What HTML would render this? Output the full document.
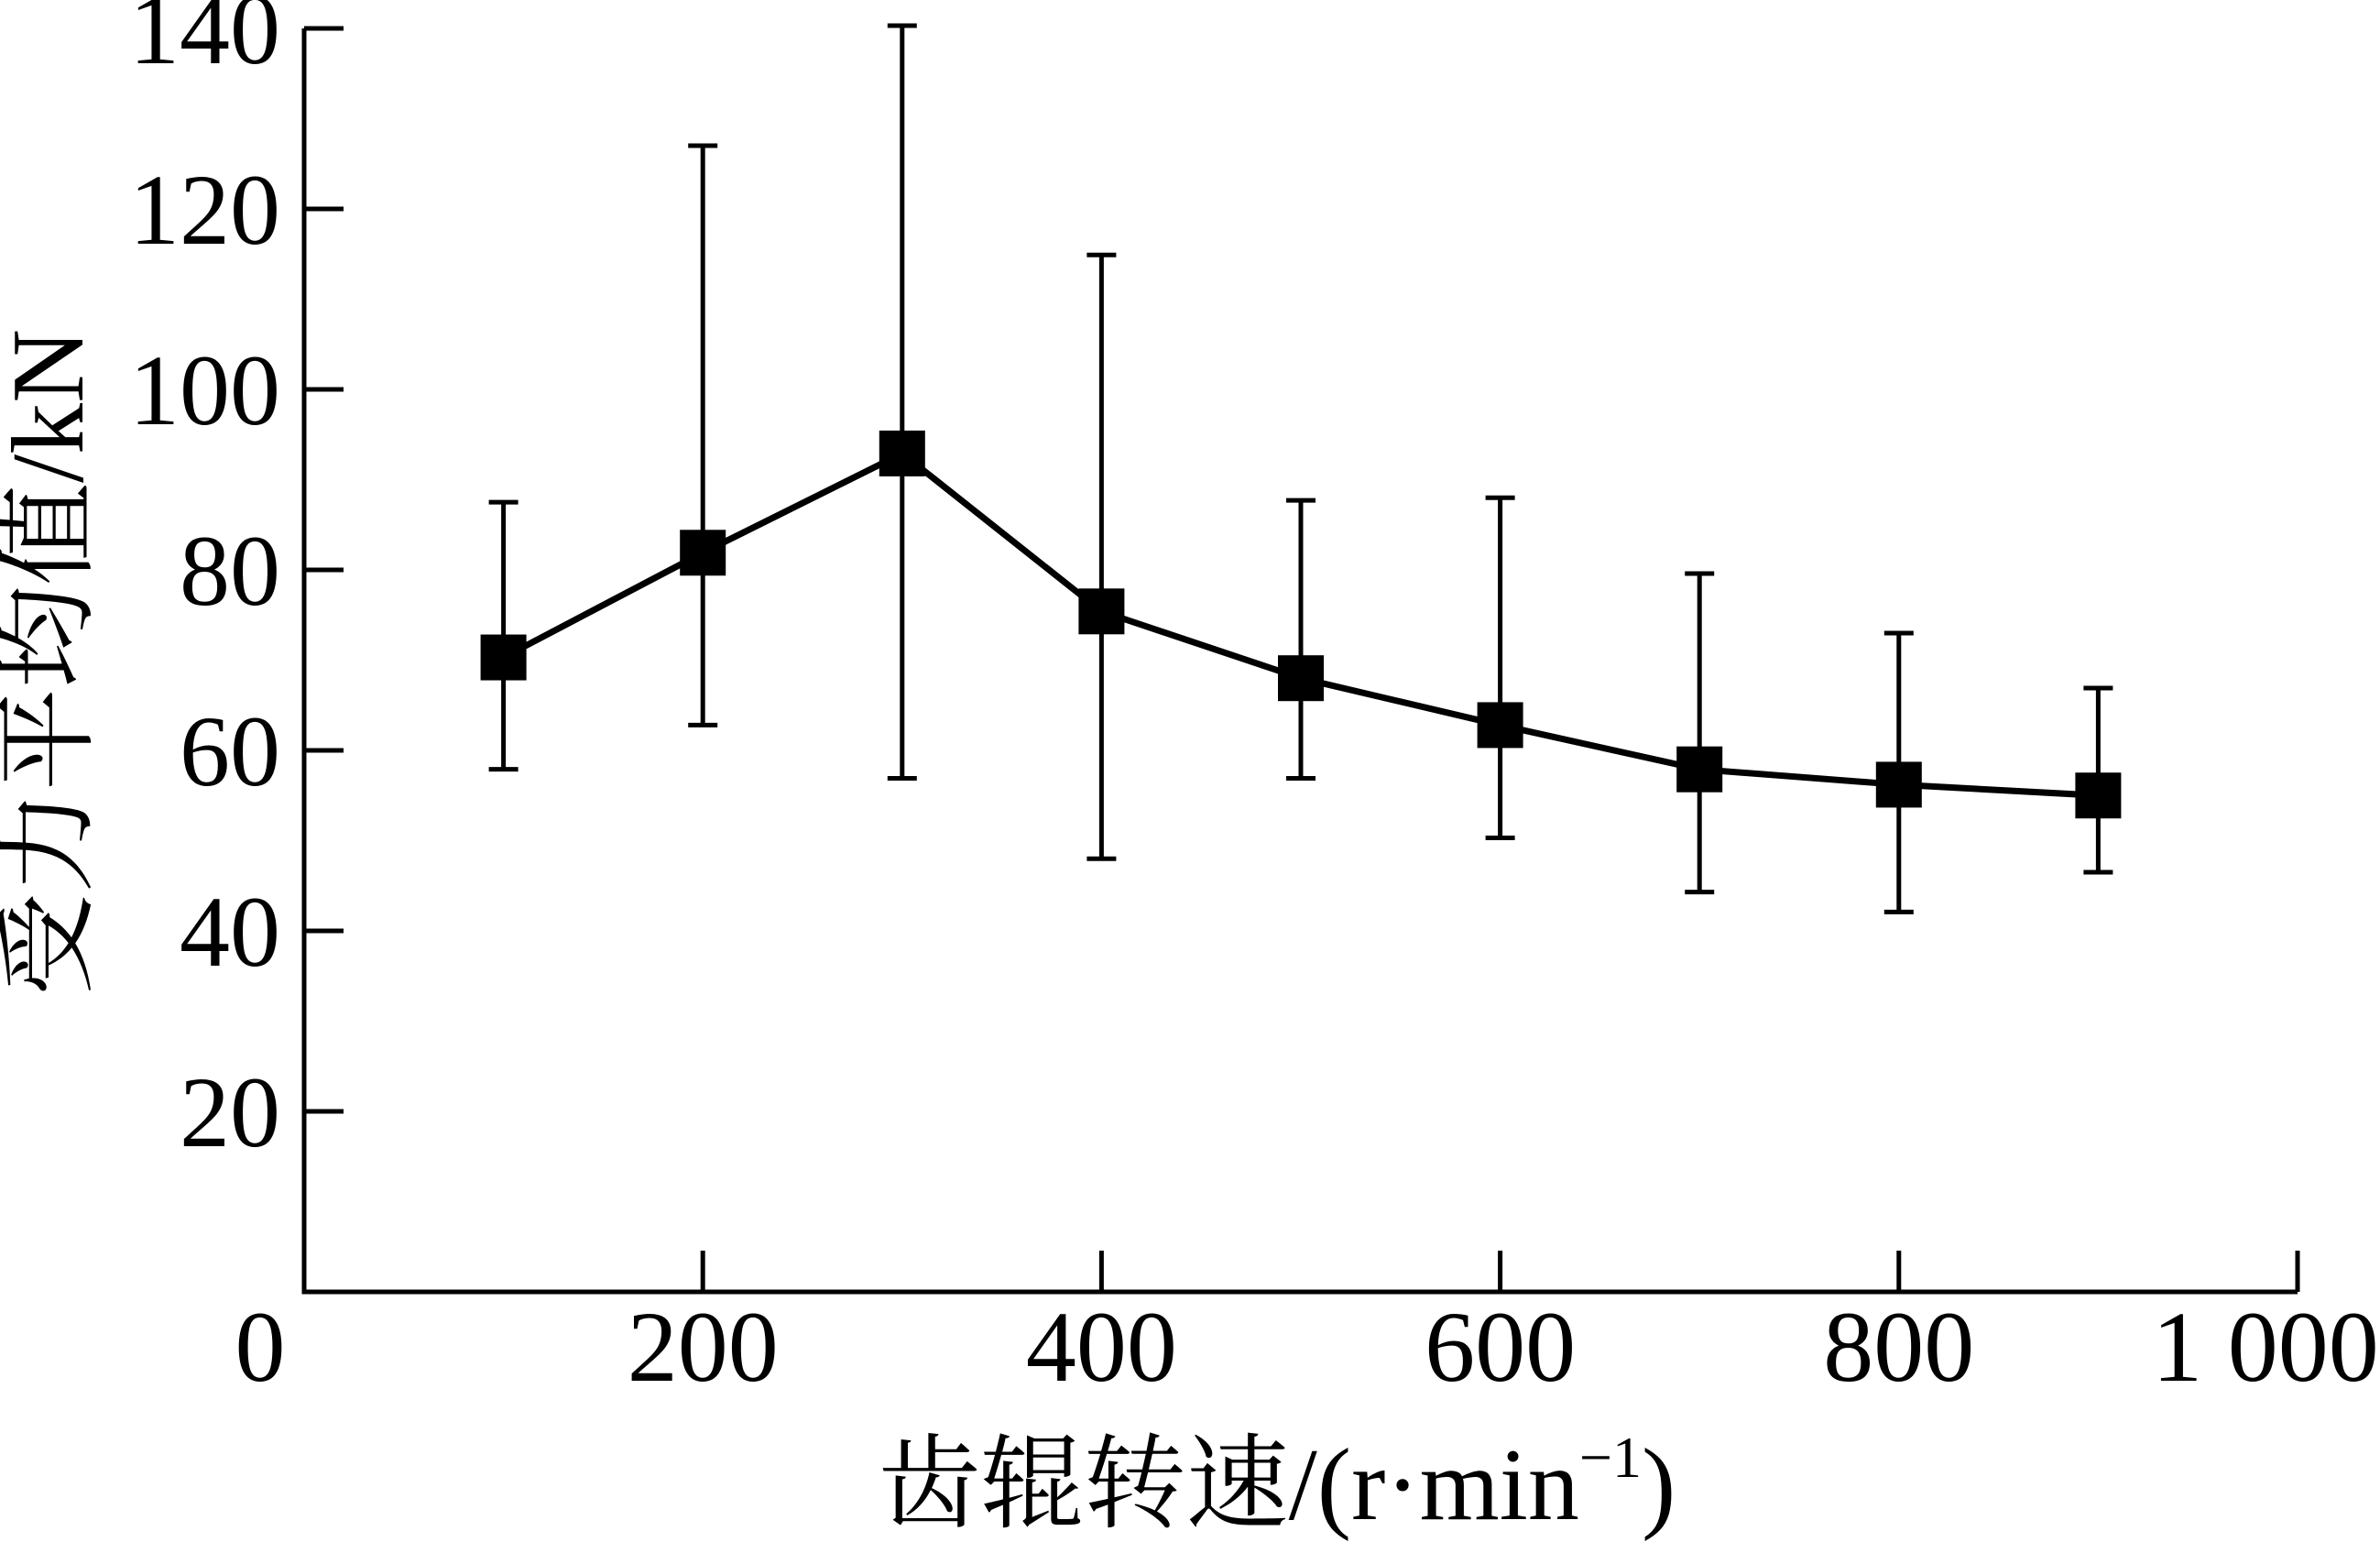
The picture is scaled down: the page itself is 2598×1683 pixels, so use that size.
<!DOCTYPE html>
<html><head><meta charset="utf-8"><style>
html,body{margin:0;padding:0;background:#fff;}
svg{display:block;}
text{font-family:"Liberation Serif","Noto Serif CJK SC",serif;fill:#000;}
</style></head><body>
<svg id="chart" width="2598" height="1683" viewBox="0 0 2598 1683" xmlns="http://www.w3.org/2000/svg">
<g id="axes"></g>
<g id="series"></g>
<text x="1394" y="1658" text-anchor="middle" font-size="112">齿辊转速/(r·min<tspan font-size="64" dy="-46">−1</tspan><tspan dy="46">)</tspan></text>
<text transform="translate(90,723) rotate(-90)" text-anchor="middle" font-size="112">受力平均值/kN</text>
</svg>
<script>
const speeds=[100,200,300,400,500,600,700,800,900];
const means=[70.3,81.9,92.9,75.4,68.0,62.8,57.9,56.2,55.0];
const upper=[87.5,127.0,140.3,114.9,87.7,88.0,79.6,73.0,66.9];
const lower=[57.9,62.8,56.9,48.0,56.9,50.3,44.3,42.1,46.5];
const xTicks=[0,200,400,600,800,1000];
const xTickLabels=["0","200","400","600","800","1 000"];
const yTicks=[20,40,60,80,100,120,140];

const NS="http://www.w3.org/2000/svg";
const X0=332,X1=2508,Y0=1410,Y140=31;
function xs(v){return X0+(X1-X0)*v/1000;}
function ys(v){return Y0-(Y0-Y140)*v/140;}
function mk(tag,attrs,parent){const e=document.createElementNS(NS,tag);for(const k in attrs)e.setAttribute(k,attrs[k]);parent.appendChild(e);return e;}
const axes=document.getElementById('axes'),series=document.getElementById('series');

let a=mk('path',{d:`M${X0} ${ys(140)} V${Y0} H${X1}`,fill:'none',stroke:'#000','stroke-width':5},axes);


yTicks.forEach(t=>{
  const l=mk('line',{x1:X0,x2:X0+43,y1:ys(t),y2:ys(t),stroke:'#000','stroke-width':5},axes);
  
  
  const tx=mk('text',{x:306,y:ys(t)+38,'text-anchor':'end','font-size':110},axes);
  tx.textContent=t;
  
  
});
xTicks.forEach((t,i)=>{
  if(t>0){
    const l=mk('line',{x1:xs(t),x2:xs(t),y1:Y0,y2:Y0-45,stroke:'#000','stroke-width':5},axes);
    
    
  }
  let cx=xs(t);
  if(i==0)cx=284;
  if(i==5)cx=2473;
  const tx=mk('text',{x:cx,y:1507,'text-anchor':'middle','font-size':110},axes);
  tx.textContent=xTickLabels[i];
  
  
});
speeds.forEach((s,i)=>{
  const x=xs(s);
  const e=mk('path',{d:`M${x} ${ys(upper[i])} V${ys(lower[i])} M${x-16} ${ys(upper[i])} H${x+16} M${x-16} ${ys(lower[i])} H${x+16}`,stroke:'#000','stroke-width':5,fill:'none'},series);
  
  
});
const pl=mk('polyline',{points:speeds.map((s,i)=>xs(s)+','+ys(means[i])).join(' '),fill:'none',stroke:'#000','stroke-width':7},series);


speeds.forEach((s,i)=>{
  const r=mk('rect',{x:xs(s)-25,y:ys(means[i])-25,width:50,height:50,fill:'#000'},series);
  
  
});
</script>
</body></html>
